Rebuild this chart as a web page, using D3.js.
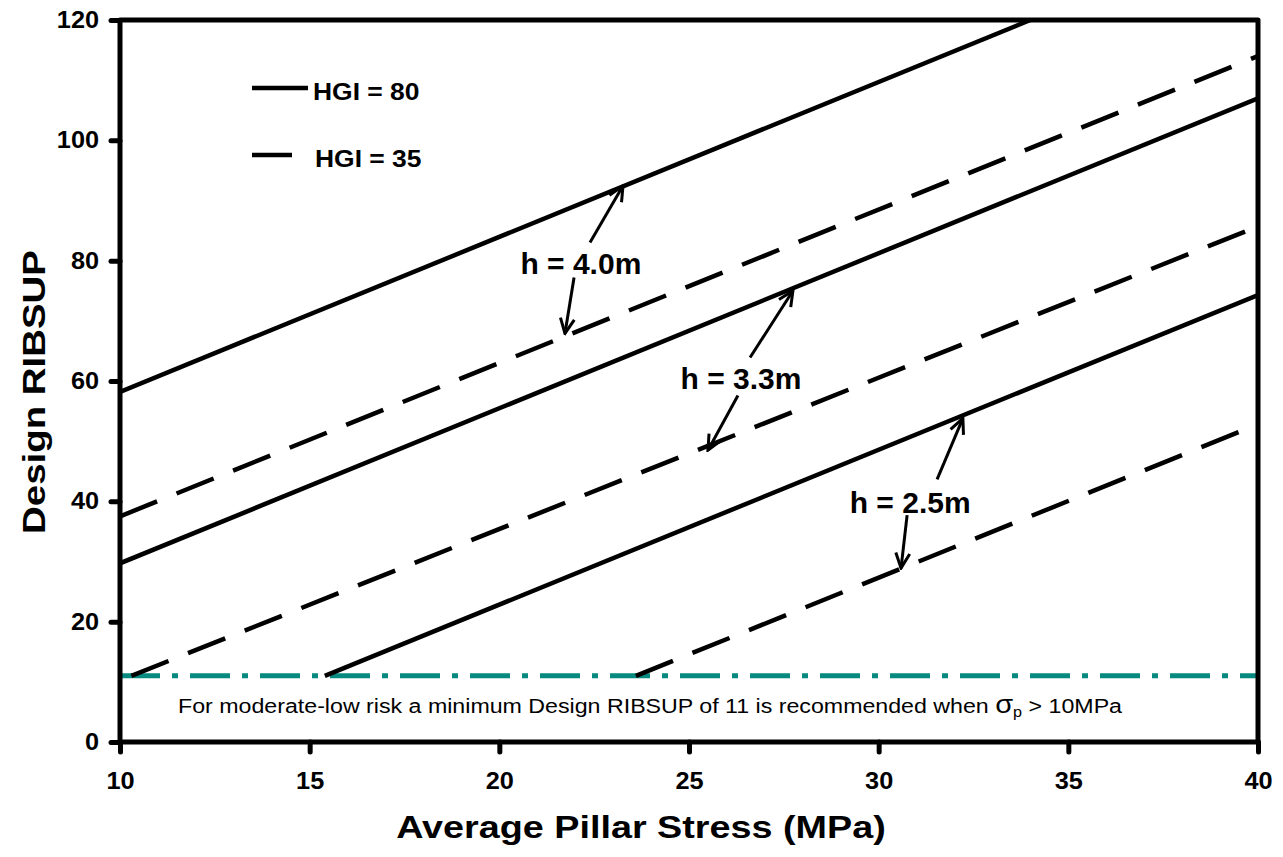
<!DOCTYPE html>
<html>
<head>
<meta charset="utf-8">
<title>Design RIBSUP vs Average Pillar Stress</title>
<style>
  body { margin: 0; background: #fff; }
  text { font-family: "Liberation Sans", Arial, sans-serif; fill: #000; }
  .bold { font-weight: bold; }
</style>
</head>
<body>
<script src="https://cdn.jsdelivr.net/npm/d3@7"></script>
<script>
// ---- data ----
const xTicks = [10, 15, 20, 25, 30, 35, 40];
const yTicks = [0, 20, 40, 60, 80, 100, 120];
// HGI = 80 (solid), end points [stress, RIBSUP], for h = 4.0, 3.3, 2.5 m
const hgi80Lines = [
  [[10, 58.2], [34.0, 120]],
  [[10, 29.7], [40, 107]],
  [[15.4, 11], [40, 74.3]]
];
// HGI = 35 (dashed)
const hgi35Lines = [
  [[10, 37.5], [40, 114]],
  [[10.3, 11], [40, 85.7]],
  [[23.6, 11], [40, 52.8]]
];
const minRibsup = 11;
const heightLabels = ["h = 4.0m", "h = 3.3m", "h = 2.5m"];
const labelPos = [[22.15, 77.8], [26.37, 58.6], [30.83, 38.0]];
// double arrows: [tail, tip] up to the solid line, [tail, tip] down to the dashed line
const arrowsUp = [[[22.39, 83.0], [23.26, 92.45]], [[26.61, 63.9], [27.74, 75.0]], [[31.54, 43.65], [32.22, 53.8]]];
const arrowsDown = [[[21.97, 77.2], [21.73, 67.9]], [[26.29, 57.6], [25.50, 48.5]], [[30.75, 37.7], [30.59, 28.9]]];
const note = "For moderate-low risk a minimum Design RIBSUP of 11 is recommended when ";

const width = 1283, height = 857;
const margin = { left: 120, right: 25, top: 20, bottom: 115 };

const svg = d3.select("body").append("svg")
  .attr("width", width)
  .attr("height", height);

const x = d3.scaleLinear().domain([10, 40]).range([margin.left, width - margin.right]);
const y = d3.scaleLinear().domain([0, 120]).range([height - margin.bottom, margin.top]);

const line = d3.line().x(d => x(d[0])).y(d => y(d[1]));

svg.append("defs").append("clipPath").attr("id", "plot")
  .append("rect")
  .attr("x", x(10)).attr("y", y(120))
  .attr("width", x(40) - x(10)).attr("height", y(0) - y(120));

svg.select("defs").append("marker")
  .attr("id", "head")
  .attr("viewBox", "-18 -10 20 20")
  .attr("markerWidth", 20).attr("markerHeight", 20)
  .attr("markerUnits", "userSpaceOnUse")
  .attr("orient", "auto")
  .append("path")
  .attr("d", "M-15,-7 L0,0 L-15,7")
  .attr("fill", "none")
  .attr("stroke", "#000")
  .attr("stroke-width", 3);

const plot = svg.append("g").attr("clip-path", "url(#plot)");

// minimum line
plot.append("path")
  .attr("d", line([[10, minRibsup], [40, minRibsup]]))
  .attr("stroke", "#068a80")
  .attr("stroke-width", 5)
  .attr("stroke-dasharray", "40,12,6,12")
  .attr("fill", "none");

plot.selectAll(".hgi80").data(hgi80Lines).join("path")
  .attr("class", "hgi80")
  .attr("d", line)
  .attr("stroke", "#000")
  .attr("stroke-width", 4.5)
  .attr("fill", "none");

plot.selectAll(".hgi35").data(hgi35Lines).join("path")
  .attr("class", "hgi35")
  .attr("d", line)
  .attr("stroke", "#000")
  .attr("stroke-width", 4.5)
  .attr("stroke-dasharray", "40,21")
  .attr("fill", "none");

// arrows
svg.selectAll(".arrow").data(arrowsUp.concat(arrowsDown)).join("path")
  .attr("class", "arrow")
  .attr("d", line)
  .attr("stroke", "#000")
  .attr("stroke-width", 3)
  .attr("marker-end", "url(#head)");

svg.selectAll(".hlabel").data(heightLabels).join("text")
  .attr("class", "hlabel bold")
  .attr("x", (d, i) => x(labelPos[i][0]))
  .attr("y", (d, i) => y(labelPos[i][1]))
  .attr("text-anchor", "middle")
  .attr("font-size", 30)
  .text(d => d);

// note
const noteText = svg.append("text")
  .attr("transform", `translate(${178},${713}) scale(1.16,1)`)
  .attr("font-size", 20);
noteText.append("tspan").text(note);
noteText.append("tspan").text("σ").attr("font-size", 25);
noteText.append("tspan").text("p").attr("font-size", 14).attr("dy", 4);
noteText.append("tspan").text(" > 10MPa").attr("dy", -4);

// axes
const axisW = 5;
svg.append("rect")
  .attr("x", x(10)).attr("y", y(120))
  .attr("width", x(40) - x(10)).attr("height", y(0) - y(120))
  .attr("fill", "none")
  .attr("stroke", "#000")
  .attr("stroke-width", axisW)
  .attr("stroke-linejoin", "round");

const tickScale = 1.1;
const xAxis = svg.append("g")
  .attr("transform", `translate(0,${y(0)})`)
  .call(d3.axisBottom(x).tickValues(xTicks).tickSize(10).tickPadding(21));
const yAxis = svg.append("g")
  .attr("transform", `translate(${x(10)},0)`)
  .call(d3.axisLeft(y).tickValues(yTicks).tickSize(9).tickPadding(12));

[xAxis, yAxis].forEach(g => {
  g.select(".domain").remove();
  g.selectAll(".tick line").attr("stroke", "#000").attr("stroke-width", axisW).attr("stroke-linecap", "round");
  g.selectAll(".tick text")
    .attr("class", "bold")
    .attr("font-size", 23)
    .attr("font-family", null);
});
xAxis.selectAll(".tick text").attr("transform", `scale(${tickScale},1)`).attr("dy", "0.71em");
yAxis.selectAll(".tick text").each(function () {
  const t = d3.select(this);
  const xx = +t.attr("x");
  t.attr("x", xx / tickScale).attr("transform", `scale(${tickScale},1)`);
});

// axis titles
svg.append("text")
  .attr("class", "bold")
  .attr("transform", `translate(${641},${838}) scale(1.18,1)`)
  .attr("text-anchor", "middle")
  .attr("font-size", 32)
  .text("Average Pillar Stress (MPa)");

svg.append("text")
  .attr("class", "bold")
  .attr("transform", `translate(${45},${392}) rotate(-90) scale(1.24,1)`)
  .attr("text-anchor", "middle")
  .attr("font-size", 31)
  .text("Design RIBSUP");

// legend
const legend = svg.append("g");
legend.append("line")
  .attr("x1", 252).attr("x2", 308).attr("y1", 88).attr("y2", 88)
  .attr("stroke", "#000").attr("stroke-width", 4.5);
legend.append("line")
  .attr("x1", 252).attr("x2", 292).attr("y1", 155).attr("y2", 155)
  .attr("stroke", "#000").attr("stroke-width", 4.5);
legend.append("text").attr("class", "bold")
  .attr("transform", "translate(313,100) scale(1.15,1)")
  .attr("font-size", 23).text("HGI = 80");
legend.append("text").attr("class", "bold")
  .attr("transform", "translate(315,167) scale(1.15,1)")
  .attr("font-size", 23).text("HGI = 35");
</script>
</body>
</html>
